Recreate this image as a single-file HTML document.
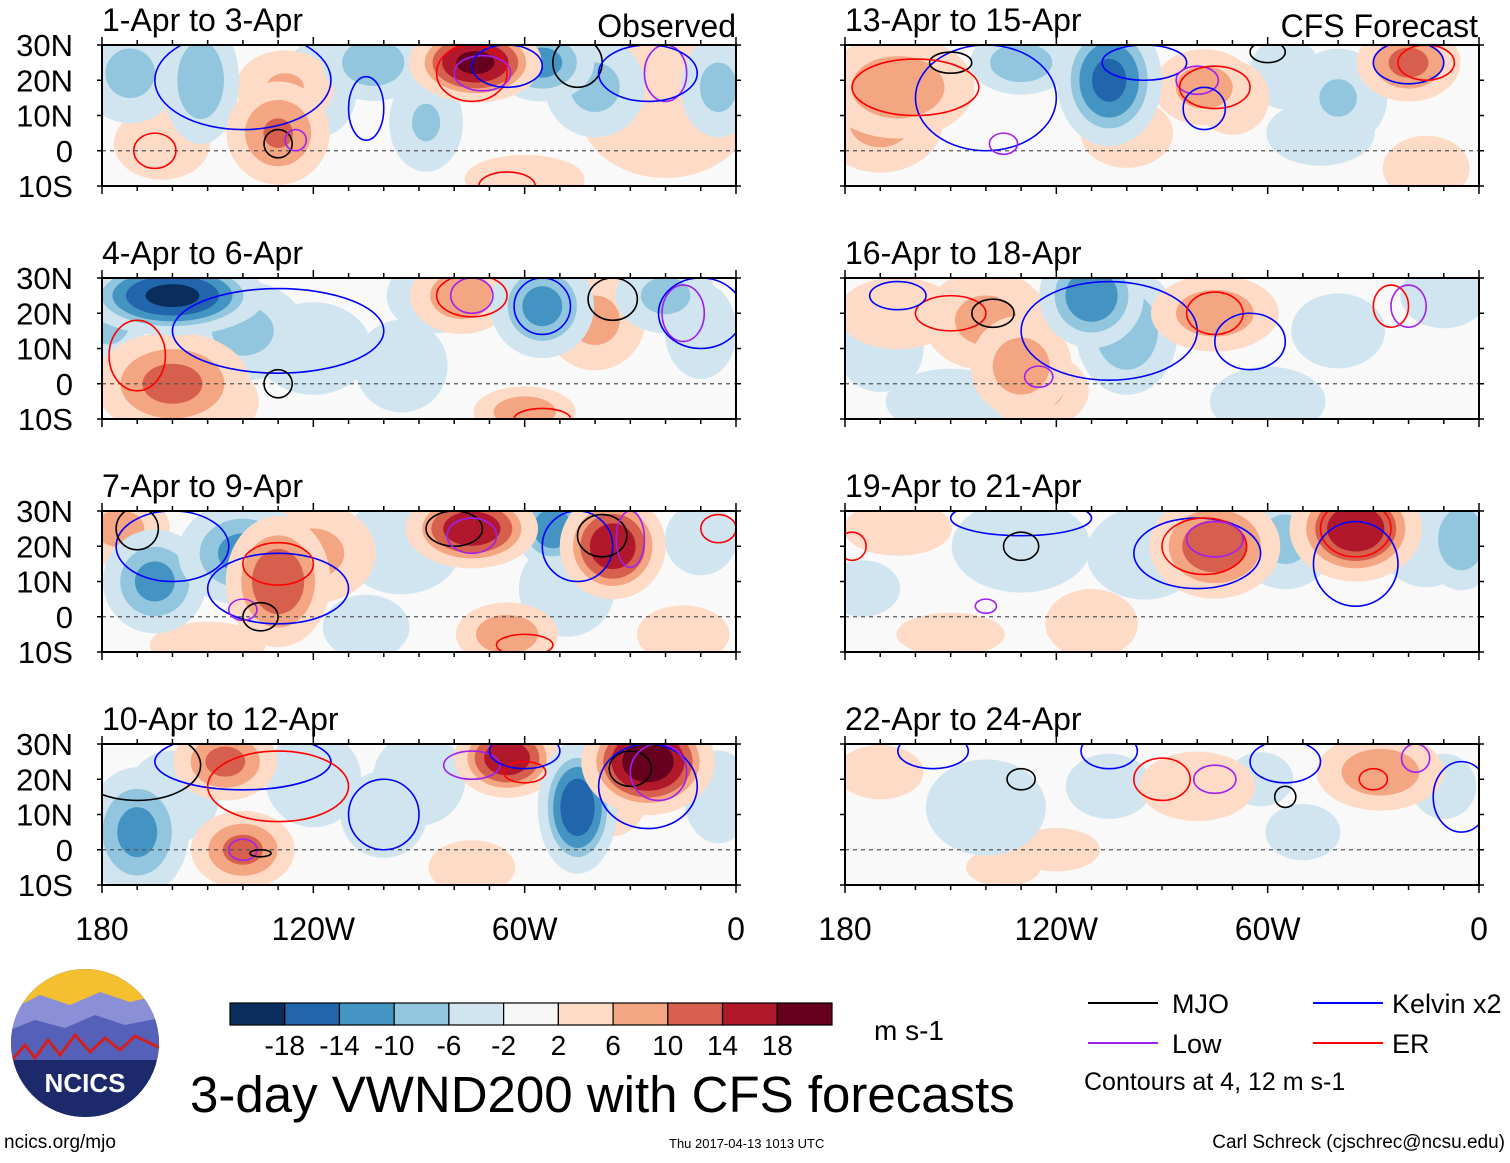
<!DOCTYPE html>
<html><head><meta charset="utf-8"><style>
body{margin:0;background:#fff;}
svg text{font-family:"Liberation Sans",sans-serif;fill:#000;}
</style></head><body>
<svg id="fig" width="1510" height="1158" viewBox="0 0 1510 1158" xmlns="http://www.w3.org/2000/svg">
<g id="panels"></g>
<g id="axes"></g>

<g id="cbar"></g>
<text x="874" y="1040" font-size="28">m s-1</text>

<g>
 <line x1="1088" y1="1003" x2="1158" y2="1003" stroke="#000" stroke-width="2"/>
 <text x="1172" y="1013" font-size="27">MJO</text>
 <line x1="1313" y1="1003" x2="1383" y2="1003" stroke="#0000ff" stroke-width="2"/>
 <text x="1392" y="1013" font-size="27">Kelvin x2</text>
 <line x1="1088" y1="1043" x2="1158" y2="1043" stroke="#a020f0" stroke-width="2"/>
 <text x="1172" y="1053" font-size="27">Low</text>
 <line x1="1313" y1="1043" x2="1383" y2="1043" stroke="#ff0000" stroke-width="2"/>
 <text x="1392" y="1053" font-size="27">ER</text>
 <text x="1084" y="1090" font-size="25">Contours at 4, 12 m s-1</text>
</g>

<g>
 <defs><clipPath id="logoclip"><circle cx="85" cy="1043" r="74"/></clipPath></defs>
 <circle cx="85" cy="1043" r="74" fill="#1c2a6b"/>
 <g clip-path="url(#logoclip)">
  <rect x="10" y="968" width="150" height="50" fill="#f4c030"/>
  <path d="M10 1010 L40 995 L70 1005 L100 992 L130 1002 L160 995 L160 1040 L10 1040Z" fill="#8a8fd6"/>
  <path d="M10 1030 L35 1020 L65 1028 L95 1015 L125 1025 L160 1018 L160 1060 L10 1060Z" fill="#5560b8"/>
  <path d="M12 1060 L25 1045 L35 1058 L48 1040 L60 1055 L75 1035 L90 1052 L105 1038 L120 1050 L135 1036 L160 1048" stroke="#d02020" stroke-width="3" fill="none"/>
  <rect x="10" y="1062" width="150" height="60" fill="#1c2a6b"/>
 </g>
 <text x="85" y="1092" font-size="26" font-weight="bold" text-anchor="middle" style="fill:#fff">NCICS</text>
</g>

<text x="190" y="1112" font-size="51">3-day VWND200 with CFS forecasts</text>
<text x="4" y="1148" font-size="19">ncics.org/mjo</text>
<text x="669" y="1148" font-size="13">Thu 2017-04-13 1013 UTC</text>
<text x="1505" y="1148" font-size="19" text-anchor="end">Carl Schreck (cjschrec@ncsu.edu)</text>
</svg>
<script>
const panelTitles=["1-Apr to 3-Apr","13-Apr to 15-Apr","4-Apr to 6-Apr","16-Apr to 18-Apr","7-Apr to 9-Apr","19-Apr to 21-Apr","10-Apr to 12-Apr","22-Apr to 24-Apr"];
const latTicks=["30N","20N","10N","0","10S"];
const lonTicks=["180","120W","60W","0"];
const cbarLabels=["-18","-14","-10","-6","-2","2","6","10","14","18"];
const bLon=[
[-172,-152,-118,-103,-88,-130,-128,-74,-55,-40,-20,-163,-5,-60],
[-165,-130,-105,-78,-70,-55,-40,-20,-170,-45,-100,-15],
[-160,-178,-140,-160,-150,-120,-85,-78,-55,-40,-20,-10,-60,-95],
[-165,-140,-110,-100,-130,-125,-75,-150,-60,-40,-10,-170],
[-175,-165,-140,-130,-120,-95,-75,-52,-48,-35,-10,-65,-150,-105,-15],
[-165,-130,-95,-75,-55,-35,-15,-150,-110,-5,-175],
[-170,-145,-120,-140,-90,-65,-45,-35,-25,-100,-160,-75,-5],
[-170,-140,-105,-80,-62,-28,-10,-120,-50,-135]];
const bLat=[
[22,20,18,25,8,5,18,25,25,18,12,2,18,-8],
[18,25,20,18,15,22,15,25,8,5,5,-5],
[25,20,15,0,-5,10,25,25,22,18,25,15,-8,5],
[20,18,25,15,5,-2,20,-5,-5,15,25,10],
[25,10,18,10,18,20,25,25,8,20,22,-5,-8,-3,-5],
[25,20,18,20,22,25,22,-5,-2,22,8],
[5,25,20,0,20,26,12,18,25,10,15,-5,15],
[22,12,18,18,20,22,18,0,5,-5]];
const bVal=[
[-8,-10,-7,-10,-7,11,7,20,-12,-8,5,6,-8,6],
[10,-10,-16,9,7,-6,-7,12,8,-4,5,4],
[-20,-10,-8,12,10,-5,-8,10,-12,8,-8,-6,10,-5],
[6,8,-14,-10,9,8,10,-4,-5,-3,-4,-4],
[8,-12,-12,14,8,-6,18,-14,-6,18,-6,10,5,-4,5],
[4,-5,-5,14,-8,18,-6,4,5,-10,-3],
[-12,12,-6,12,-5,18,-18,8,22,-4,-5,4,-5],
[4,-6,-4,5,-4,10,-4,4,-3,3]];
const bRx=[
[8,6,6,8,6,8,8,10,8,8,15,8,6,10],
[12,8,8,8,6,6,8,8,10,10,8,8],
[14,6,10,12,8,10,8,8,8,8,8,6,8,8],
[10,10,8,8,8,8,10,12,10,10,8,8],
[8,8,10,8,10,10,10,6,8,8,6,8,10,8,8],
[10,12,10,10,8,10,8,10,8,6,8],
[8,8,8,8,8,8,6,6,10,8,8,8,6],
[8,10,8,10,6,10,6,8,8,8]];
const bRy=[
[8,10,8,6,8,8,6,6,6,8,12,6,8,4],
[8,5,10,6,6,6,8,6,8,6,6,6],
[6,8,8,8,6,8,6,6,8,8,6,8,4,8],
[6,8,8,10,8,6,6,6,6,8,6,8],
[6,8,8,10,8,8,6,6,8,8,6,5,4,6,5],
[5,8,8,8,8,8,8,4,6,8,6],
[10,6,8,6,8,6,10,8,8,8,8,5,8],
[5,8,6,6,5,6,6,4,6,4]];
const cType=[
["K","K","E","M","L","E","L","K","M","L","K","E"],
["K","M","E","K","L","E","K","L","K","E","M"],
["K","E","M","E","L","K","M","L","K","E"],
["K","E","M","K","E","K","L","E","L"],
["K","M","K","E","L","M","M","L","K","M","L","E","E"],
["K","M","E","K","E","L","E","K","L"],
["M","K","E","L","M","K","L","E","M","K","L","K"],
["K","M","K","E","L","K","M","E","L","K"]];
const cLon=[
[-140,-105,-165,-130,-125,-75,-72,-65,-45,-20,-25,-65],
[-140,-150,-160,-95,-80,-75,-78,-135,-20,-15,-60],
[-130,-170,-130,-75,-75,-55,-35,-15,-10,-55],
[-105,-150,-138,-165,-75,-65,-125,-25,-20],
[-160,-170,-130,-130,-140,-135,-80,-75,-45,-38,-30,-5,-60],
[-130,-130,-178,-80,-78,-75,-35,-35,-140],
[-170,-140,-130,-140,-135,-100,-75,-60,-30,-25,-22,-60],
[-155,-130,-105,-90,-75,-55,-55,-30,-18,-5]];
const cLat=[
[20,12,0,2,3,22,22,24,25,22,22,-10],
[15,25,18,25,20,18,12,2,25,25,28],
[15,8,0,25,25,22,24,20,20,-10],
[15,20,20,25,20,12,2,22,22],
[20,25,8,15,2,0,25,23,20,23,22,25,-8],
[28,20,20,18,20,22,25,15,3],
[24,25,18,0,-1,10,24,22,23,18,22,28],
[28,20,28,20,20,25,15,20,26,15]];
const cRx=[
[25,5,6,4,3,10,8,10,7,6,14,8],
[20,6,18,12,6,10,6,4,10,8,5],
[30,8,4,10,6,8,7,6,12,8],
[25,10,6,8,8,10,4,5,5],
[16,6,20,10,4,5,8,7,10,7,4,5,8],
[20,5,4,18,12,8,10,12,3],
[18,25,20,4,3,10,8,6,6,14,8,10],
[10,4,8,8,6,10,3,4,4,8]];
const cRy=[
[14,9,5,4,3,8,5,6,7,8,8,4],
[15,3,8,5,4,6,6,3,6,5,3],
[12,10,4,6,5,8,6,8,10,3],
[14,5,4,4,6,8,3,6,6],
[10,6,10,6,3,4,5,5,10,6,8,4,3],
[5,4,4,10,8,5,8,12,2],
[10,8,10,3,1,10,4,3,5,12,8,5],
[5,3,5,6,4,6,3,3,4,10]];

const NS="http://www.w3.org/2000/svg";
function mk(tag,attrs,parent){const e=document.createElementNS(NS,tag);for(const k in attrs)e.setAttribute(k,attrs[k]);parent.appendChild(e);return e;}
const posCols=["#fddbc7","#f4a582","#d6604d","#b2182b","#67001f"];
const negCols=["#d1e5f0","#92c5de","#4393c3","#2166ac","#0b2d5e"];
const thr=[2,6,10,14,18];
const GROW=1.7;
const PW=634, PH=141;
const colX=[102,845], rowY=[45,278,511,744];
const panels=document.getElementById('panels');
const axes=document.getElementById('axes');
const kcol={K:"#0000ff",E:"#ff0000",M:"#000000",L:"#a020f0"};
for(let p=0;p<8;p++){
  const x0=colX[p%2], y0=rowY[Math.floor(p/2)];
  const xs=lon=>x0+(lon+180)/180*PW;
  const ys=lat=>y0+(30-lat)/40*PH;
  const sx=d=>d/180*PW, sy=d=>d/40*PH;
  const g=mk('g',{},panels);
  
  
  const cp=mk('clipPath',{id:'cp'+p},g);
  mk('rect',{x:x0,y:y0,width:PW,height:PH},cp);
  mk('rect',{x:x0,y:y0,width:PW,height:PH,fill:'#f9f9f9'},g);
  const inner=mk('g',{'clip-path':'url(#cp'+p+')'},g);
  const idx=bVal[p].map((v,i)=>i).sort((a,b)=>Math.abs(bVal[p][a])-Math.abs(bVal[p][b]));
  idx.forEach(i=>{
    const v=bVal[p][i], a=Math.abs(v);
    if(a<=2)return;
    const bg=mk('g',{},inner);
    
    
    for(let k=0;k<thr.length;k++){
      if(a<=thr[k])break;
      const s=Math.sqrt((a-thr[k])/(a-2+1.5))*(k===0?1:1)+ (k===0?0.15:0);
      mk('ellipse',{cx:xs(bLon[p][i]),cy:ys(bLat[p][i]),rx:sx(bRx[p][i])*GROW*s,ry:sy(bRy[p][i])*GROW*s,fill:(v>0?posCols:negCols)[k]},bg);
    }
  });
  mk('line',{x1:x0,y1:ys(0),x2:x0+PW,y2:ys(0),stroke:'#555','stroke-dasharray':'4 4','stroke-width':1.2},inner);
  cType[p].forEach((t,i)=>{
    const e=mk('ellipse',{cx:xs(cLon[p][i]),cy:ys(cLat[p][i]),rx:sx(cRx[p][i]),ry:sy(cRy[p][i]),fill:'none',stroke:kcol[t],'stroke-width':1.6},inner);
    
    
  });
  mk('rect',{x:x0,y:y0,width:PW,height:PH,fill:'none',stroke:'#000','stroke-width':2},g);
  for(let lon=-180;lon<=0;lon+=10){
    const L=(lon%60===0)?8:5;
    mk('line',{x1:xs(lon),y1:y0,x2:xs(lon),y2:y0-L,stroke:'#000','stroke-width':1.5},g);
    mk('line',{x1:xs(lon),y1:y0+PH,x2:xs(lon),y2:y0+PH+L,stroke:'#000','stroke-width':1.5},g);
  }
  for(let lat=-10;lat<=30;lat+=10){
    mk('line',{x1:x0,y1:ys(lat),x2:x0-5,y2:ys(lat),stroke:'#000','stroke-width':1.5},g);
    mk('line',{x1:x0+PW,y1:ys(lat),x2:x0+PW+5,y2:ys(lat),stroke:'#000','stroke-width':1.5},g);
  }
  const t=mk('text',{x:x0,y:y0-14,'font-size':32},g);
  t.textContent=panelTitles[p];
  
  
  if(p%2===0){
    latTicks.forEach((s,i)=>{
      const tt=mk('text',{x:73,y:y0+i*PH/4+11,'font-size':31,'text-anchor':'end'},axes);
      tt.textContent=s;
      
      
    });
  }
}
const ob=mk('text',{x:736,y:37,'font-size':32,'text-anchor':'end'},axes);ob.textContent='Observed';


const fc=mk('text',{x:1478,y:37,'font-size':32,'text-anchor':'end'},axes);fc.textContent='CFS Forecast';


[0,1].forEach(c=>{
  lonTicks.forEach((s,i)=>{
    const tt=mk('text',{x:colX[c]+i*PW/3,y:940,'font-size':32,'text-anchor':'middle'},axes);
    tt.textContent=s;
    
    
  });
});
const cb=document.getElementById('cbar');
const allCols=negCols.slice().reverse().concat(['#f7f7f7']).concat(posCols);
const bw=602/11;
allCols.forEach((c,i)=>{
  const r=mk('rect',{x:230+i*bw,y:1003,width:bw,height:22,fill:c,stroke:'#000','stroke-width':1.2},cb);
  
  
});
cbarLabels.forEach((s,i)=>{
  const tt=mk('text',{x:230+(i+1)*bw,y:1055,'font-size':28,'text-anchor':'middle'},cb);
  tt.textContent=s;
  
  
});
</script>
</body></html>
